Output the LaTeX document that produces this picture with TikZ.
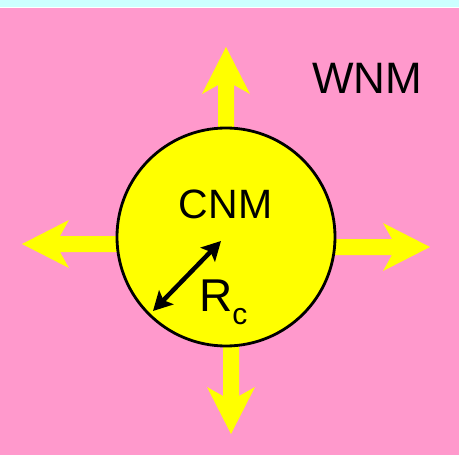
\documentclass[tikz,border=0pt]{standalone}
\usepackage{fontspec}
\setmainfont{Liberation Sans}
\usetikzlibrary{arrows.meta}
\definecolor{bgpink}{HTML}{FF99CC}
\definecolor{bgcyan}{HTML}{CCFFFF}
\definecolor{cyel}{HTML}{FFFF00}
\tikzset{
  fatarrow/.pic={
    \fill[cyel] (0,0) -- (-47,24) -- (-38,8) -- (-130,8) -- (-130,-8) -- (-38,-8) -- (-47,-24) -- cycle;
  },
  lbl/.style={inner sep=0pt, text=black},
  radius arrow/.style={line width=4.5pt, {Stealth[length=19pt,width=20pt,inset=4pt]}-{Stealth[length=19pt,width=20pt,inset=4pt]}}
}
\begin{document}
\begin{tikzpicture}[x=1pt,y=-1pt]
\useasboundingbox (0,0) rectangle (459,455);
% background
\fill[bgpink] (0,0) rectangle (459,455);
\fill[bgcyan] (0,0) rectangle (459,7);
\fill[white] (0,7) rectangle (459,8.2);
% outward arrows
\pic[rotate=90] at (226,47) {fatarrow};
\pic[rotate=180] at (22,244) {fatarrow};
\pic at (430,247) {fatarrow};
\pic[rotate=270] at (231,434) {fatarrow};
% cloud
\node[circle, fill=cyel, draw=black, line width=2.8pt, minimum size=218pt, inner sep=0pt] (cnm) at (226,237) {};
\node[lbl, anchor=base, font=\fontsize{41}{46}\selectfont] (cnmlabel) at (225.5,218) {CNM};
\node[lbl, anchor=base west, font=\fontsize{44}{50}\selectfont] (wnm) at (312,93) {WNM};
\coordinate (rin) at (221,241);
\coordinate (rout) at (153,311);
\draw[radius arrow] (rout) -- (rin);
\node[lbl, anchor=base west, font=\fontsize{46}{52}\selectfont] (rc) at (199,311) {R\raisebox{-13pt}{\fontsize{30}{34}\selectfont c}};
\end{tikzpicture}
\end{document}
